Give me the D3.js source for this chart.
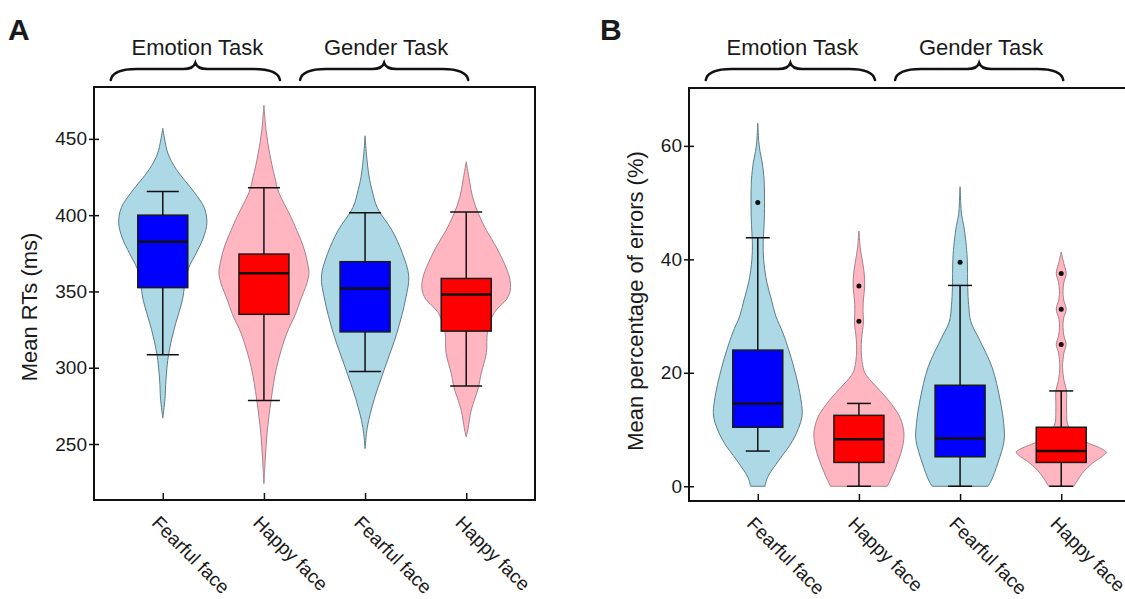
<!DOCTYPE html>
<html>
<head>
<meta charset="utf-8">
<script src="https://cdn.jsdelivr.net/npm/d3@7"></script>
<style>
  body { margin: 0; background: #fff; }
  text { font-family: "Liberation Sans", Arial, sans-serif; fill: #1a1a1a; }
</style>
</head>
<body>
<svg id="chart" width="1125" height="599"></svg>
<script>
// ---- data ----
const faces = ["Fearful face", "Happy face", "Fearful face", "Happy face"];
const tasks = ["Emotion Task", "Gender Task"];
const isFearful = [true, false, true, false];

// Panel A: mean RTs (ms)
const ticksA = [250, 300, 350, 400, 450];
const whiskerLowA = [308.5, 278.5, 297.5, 288];
const q1A = [352.5, 335, 323.5, 324];
const medianA = [382.5, 362, 352, 348];
const q3A = [400, 374.5, 369.5, 358.5];
const whiskerHighA = [415.5, 418, 401.5, 402];
const outliersA = [[], [], [], []];
// violin outlines: [value, relative density]
const violinA = [
  [[267,0],[280,0.05],[292,0.07],[309,0.13],[325,0.25],[345,0.44],[355,0.49],[365,0.57],[375,0.74],[385,0.9],[395,0.98],[405,0.92],[415,0.7],[430,0.3],[440,0.12],[450,0.04],[457,0]],
  [[224,0],[240,0.03],[257,0.07],[279,0.16],[300,0.28],[322,0.5],[335,0.7],[345,0.82],[355,0.95],[362,1.0],[370,0.96],[380,0.87],[390,0.73],[400,0.58],[415,0.33],[425,0.24],[440,0.13],[455,0.05],[472,0]],
  [[247,0],[261,0.05],[279,0.2],[300,0.44],[323,0.71],[345,0.9],[360,0.97],[375,0.83],[390,0.6],[405,0.27],[417,0.15],[425,0.09],[440,0.03],[452,0]],
  [[254.6,0],[260,0.04],[272,0.11],[287,0.27],[296,0.33],[310,0.45],[323,0.47],[336,0.62],[345,0.9],[351,0.98],[358,0.97],[366,0.88],[379,0.67],[390,0.45],[401,0.27],[412,0.14],[423,0.07],[435,0]]
];

// Panel B: mean percentage of errors (%)
const ticksB = [0, 20, 40, 60];
const whiskerLowB = [6.2, 0, 0, 0];
const q1B = [10.4, 4.2, 5.2, 4.2];
const medianB = [14.6, 8.3, 8.4, 6.2];
const q3B = [24, 12.5, 17.8, 10.4];
const whiskerHighB = [43.8, 14.6, 35.4, 16.8];
const outliersB = [[50], [35.3, 29.1], [39.5], [37.5, 31.2, 25]];
const violinB = [
  [[0,0.16],[1.6,0.22],[4.6,0.47],[8.1,0.78],[12.2,0.98],[15.2,0.96],[21,0.8],[27,0.56],[30,0.4],[33,0.3],[36,0.2],[40,0.13],[43,0.12],[46,0.14],[50,0.15],[54,0.14],[57,0.1],[59,0.05],[61,0.02],[64,0]],
  [[0,0.63],[2,0.75],[4.6,0.88],[7,0.97],[9.4,1.0],[12,0.92],[13.4,0.82],[15.5,0.62],[17,0.45],[19,0.22],[20,0.13],[22,0.07],[24,0.05],[26,0.06],[29,0.1],[31,0.09],[33,0.1],[35.3,0.13],[38,0.11],[40,0.07],[42,0.03],[45,0]],
  [[0,0.62],[1.1,0.7],[4.1,0.84],[8.1,0.98],[11,0.97],[15.2,0.89],[21,0.71],[26,0.42],[29,0.24],[32,0.19],[35,0.17],[40,0.16],[43,0.13],[46,0.08],[48,0.03],[50,0.015],[52.8,0]],
  [[0,0.28],[2.3,0.47],[4.1,0.7],[5.2,0.9],[6,1.0],[6.8,0.85],[7.6,0.6],[8.7,0.4],[9.6,0.25],[11,0.14],[13,0.12],[15.2,0.12],[16.8,0.12],[18.7,0.06],[21,0.03],[23.5,0.06],[25,0.11],[26.5,0.06],[28,0.04],[29.5,0.05],[31.2,0.11],[33,0.05],[34.5,0.04],[36,0.06],[37.5,0.11],[39.5,0.05],[41.3,0]]
];

const colors = {
  violinBlue: "#add8e6", violinPink: "#ffb6c1",
  strokeBlue: "#5b7d89", strokePink: "#a8808a",
  boxBlue: "#0000ff", boxRed: "#ff0000"
};

const svg = d3.select("#chart");

function drawPanel(cfg) {
  const g = svg.append("g");
  const x = d3.scalePoint()
    .domain(d3.range(faces.length))
    .range([cfg.left, cfg.left + 441])
    .padding(0.68);
  const y = d3.scaleLinear()
    .domain(cfg.domain)
    .range([cfg.bottom, cfg.top]);
  const w = d3.scaleLinear().domain([0, 1]).range([0, 45]);

  // violins
  faces.forEach((f, i) => {
    const cx = x(i);
    const area = d3.area()
      .curve(d3.curveCatmullRom)
      .y(d => y(d[0]))
      .x0(d => cx - w(d[1]))
      .x1(d => cx + w(d[1]));
    g.append("path")
      .attr("d", area(cfg.violin[i]))
      .attr("fill", isFearful[i] ? colors.violinBlue : colors.violinPink)
      .attr("stroke", isFearful[i] ? colors.strokeBlue : colors.strokePink)
      .attr("stroke-width", 1);
  });

  // whiskers and boxes
  faces.forEach((f, i) => {
    const cx = x(i);
    const lines = [
      [cfg.whiskerLow[i], cfg.q1[i]],
      [cfg.q3[i], cfg.whiskerHigh[i]]
    ];
    lines.forEach(([a, b]) => {
      g.append("line")
        .attr("x1", cx).attr("x2", cx)
        .attr("y1", y(a)).attr("y2", y(b))
        .attr("stroke", "#111").attr("stroke-width", 1.5);
    });
    [cfg.whiskerLow[i], cfg.whiskerHigh[i]].forEach(v => {
      g.append("line")
        .attr("x1", cx - cfg.cap).attr("x2", cx + cfg.cap)
        .attr("y1", y(v)).attr("y2", y(v))
        .attr("stroke", "#111").attr("stroke-width", 1.5);
    });
    g.append("rect")
      .attr("x", cx - 25).attr("width", 50)
      .attr("y", y(cfg.q3[i]))
      .attr("height", y(cfg.q1[i]) - y(cfg.q3[i]))
      .attr("fill", isFearful[i] ? colors.boxBlue : colors.boxRed)
      .attr("stroke", "#1a1a1a").attr("stroke-width", 1.5);
    g.append("line")
      .attr("x1", cx - 25).attr("x2", cx + 25)
      .attr("y1", y(cfg.median[i])).attr("y2", y(cfg.median[i]))
      .attr("stroke", "#111").attr("stroke-width", 2.5);
    g.selectAll(null)
      .data(cfg.outliers[i])
      .enter().append("circle")
      .attr("cx", cx).attr("cy", d => y(d))
      .attr("r", 2.5).attr("fill", "#111");
  });

  // axes (left ticks cross the frame line)
  const yAxis = g.append("g")
    .attr("transform", `translate(${cfg.left + 5},0)`)
    .call(d3.axisLeft(y).tickValues(cfg.ticks).tickSize(10).tickSizeOuter(0).tickPadding(2));
  yAxis.select(".domain").remove();
  yAxis.selectAll("line").attr("stroke", "#111").attr("stroke-width", 1.5);
  yAxis.selectAll("text").style("font-size", "19px").attr("fill", "#1a1a1a")
    .style("font-family", '"Liberation Sans", Arial, sans-serif');

  const xAxis = g.append("g")
    .attr("transform", `translate(0,${cfg.bottom})`)
    .call(d3.axisBottom(x).tickSize(-7).tickSizeOuter(0).tickFormat(""));
  xAxis.select(".domain").remove();
  xAxis.selectAll("line").attr("stroke", "#111").attr("stroke-width", 1.5);

  g.selectAll(".xlab")
    .data(faces)
    .enter().append("text")
    .attr("class", "xlab")
    .attr("transform", (d, i) => `translate(${x(i) - 12},${cfg.bottom + 24}) rotate(45)`)
    .style("font-size", "19px")
    .text(d => d);

  // frame
  g.append("rect")
    .attr("x", cfg.left).attr("y", cfg.top)
    .attr("width", 441).attr("height", cfg.bottom - cfg.top)
    .attr("fill", "none").attr("stroke", "#111").attr("stroke-width", 2);

  // y title
  g.append("text")
    .attr("transform", `translate(${cfg.titleX},${cfg.titleY}) rotate(-90)`)
    .attr("text-anchor", "middle")
    .style("font-size", "22px")
    .text(cfg.title);

  // panel letter
  g.append("text")
    .attr("x", cfg.letterX).attr("y", 40)
    .style("font-size", "30px").style("font-weight", "bold")
    .text(cfg.letter);

  // task braces and labels
  const spans = [
    [x(0) - 52, x(1) + 16],
    [x(2) - 65, x(3) + 2]
  ];
  tasks.forEach((t, k) => {
    const [x1, x2] = spans[k];
    const mid = (x1 + x2) / 2;
    const yb = 80, ym = 69, yt = 63, q = 16;
    const p = d3.path();
    p.moveTo(x1, yb);
    p.quadraticCurveTo(x1 + 2, ym, x1 + q + 10, ym);
    p.lineTo(mid - 12, ym);
    p.quadraticCurveTo(mid - 2, ym, mid, yt);
    p.quadraticCurveTo(mid + 2, ym, mid + 12, ym);
    p.lineTo(x2 - q - 10, ym);
    p.quadraticCurveTo(x2 - 2, ym, x2, yb);
    g.append("path")
      .attr("d", p.toString())
      .attr("fill", "none").attr("stroke", "#111")
      .attr("stroke-width", 2.5).attr("stroke-linecap", "round");
    g.append("text")
      .attr("x", mid + 2).attr("y", 55)
      .attr("text-anchor", "middle")
      .style("font-size", "22px")
      .text(t);
  });
}

drawPanel({
  left: 94, top: 87, bottom: 500, domain: [213.3, 484],
  ticks: ticksA, violin: violinA,
  whiskerLow: whiskerLowA, q1: q1A, median: medianA, q3: q3A, whiskerHigh: whiskerHighA,
  outliers: outliersA, cap: 16,
  title: "Mean RTs (ms)", titleX: 37, titleY: 307,
  letter: "A", letterX: 8
});

drawPanel({
  left: 689, top: 88, bottom: 501, domain: [-2.6, 70.2],
  ticks: ticksB, violin: violinB,
  whiskerLow: whiskerLowB, q1: q1B, median: medianB, q3: q3B, whiskerHigh: whiskerHighB,
  outliers: outliersB, cap: 12,
  title: "Mean percentage of errors (%)", titleX: 643, titleY: 301,
  letter: "B", letterX: 600
});
</script>
</body>
</html>
